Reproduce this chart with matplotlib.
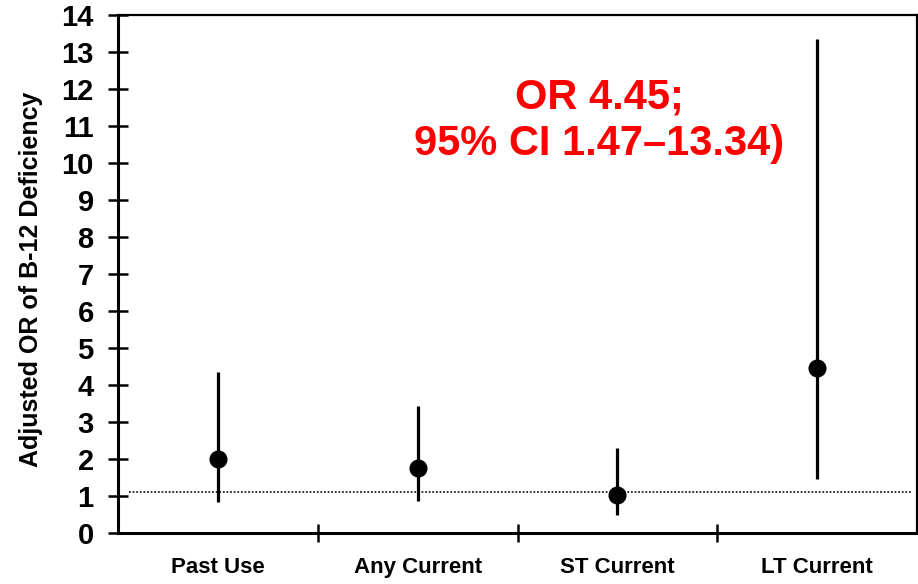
import matplotlib
matplotlib.use("Agg")
import matplotlib.pyplot as plt

# Odds ratios of B-12 deficiency with 95% confidence intervals
categories = ["Past Use", "Any Current", "ST Current", "LT Current"]
odds_ratio = [2.0, 1.75, 1.02, 4.45]
ci_low = [0.85, 0.87, 0.49, 1.47]
ci_high = [4.36, 3.43, 2.29, 13.34]
reference_level = 1.1
y_ticks = list(range(0, 15))

fig = plt.figure(figsize=(9.18, 5.84), dpi=100)
ax = fig.add_axes([118 / 918, 51 / 584, 799 / 918, 518 / 584])

x = list(range(len(categories)))
yerr = [[m - lo for m, lo in zip(odds_ratio, ci_low)],
        [hi - m for m, hi in zip(odds_ratio, ci_high)]]
ax.errorbar(x, odds_ratio, yerr=yerr, fmt="o", color="black", ms=12,
            elinewidth=2.3, capsize=0, zorder=3)

ax.plot([-0.445, 3.47], [reference_level, reference_level], ls=(0, (1, 1)),
        color="#222222", lw=1.3, zorder=1)

ax.set_xlim(-0.5, 3.5)
ax.set_ylim(0, 14)
ax.set_yticks(y_ticks)
ax.set_yticklabels([str(t) for t in y_ticks], fontfamily="Liberation Sans",
                   fontweight="bold", fontsize=21)
ax.tick_params(axis="y", direction="inout", length=15, width=1.8, pad=10)

ax.set_xticks([0.5, 1.5, 2.5])
ax.set_xticklabels([])
ax.tick_params(axis="x", direction="inout", length=13, width=1.8)
for xi, name in zip(x, categories):
    ax.annotate(name, xy=(xi, 0), xycoords=("data", "axes fraction"),
                xytext=(0, -17), textcoords="offset points", ha="center",
                va="top", fontfamily="Liberation Sans", fontweight="bold",
                fontsize=16)

for side in ["left", "bottom"]:
    ax.spines[side].set_linewidth(2.2)
for side in ["top", "right"]:
    ax.spines[side].set_linewidth(1.6)

ax.set_ylabel("Adjusted OR of B-12 Deficiency", fontfamily="Liberation Sans",
              fontweight="bold", fontsize=18)
ax.yaxis.set_label_coords(-0.094, 0.49)

ax.text(1.91, 11.14, "OR 4.45;\n95% CI 1.47\u201313.34)", color="#ff0000",
        ha="center", va="center", fontfamily="Liberation Sans",
        fontweight="bold", fontsize=30, linespacing=1.2)

fig.savefig("out.png", dpi=100)
